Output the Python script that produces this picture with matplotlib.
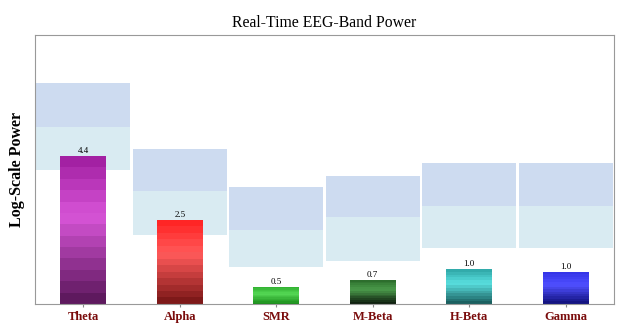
import numpy as np
import matplotlib
matplotlib.use('Agg')
from matplotlib import pyplot as plt
from matplotlib.colors import LinearSegmentedColormap

bands = ['Theta', 'Alpha', 'SMR', 'M-Beta', 'H-Beta', 'Gamma']
power = [4.4, 2.5, 0.5, 0.72, 1.03, 0.96]
# reference ranges behind each bar: low, mid, high
range_low = [3.99, 2.05, 1.10, 1.29, 1.65, 1.65]
range_mid = [5.27, 3.36, 2.20, 2.58, 2.92, 2.92]
range_high = [6.58, 4.61, 3.48, 3.82, 4.19, 4.19]

# bottom, middle, top shades
bar_shades = [
    ['#561556', '#d855d8', '#9e1c9e'],
    ['#761515', '#ff5a5a', '#ff2020'],
    ['#178a17', '#55d855', '#30b030'],
    ['#0c1a0c', '#4a9a4a', '#2a6a2a'],
    ['#175858', '#5ae0e0', '#2ea6a6'],
    ['#10107a', '#5050ff', '#3232e6'],
]
n_seg = 13

plt.rcParams['font.family'] = ['Liberation Serif', 'DejaVu Serif']
fig = plt.figure(figsize=(6.29, 3.30), dpi=100)
ax = fig.add_axes([0.0556, 0.079, 0.9205, 0.815])

x = np.arange(len(bands))
ax.bar(x, np.array(range_mid) - np.array(range_low), bottom=range_low,
       width=0.97, color='#d9ebf2', zorder=1)
ax.bar(x, np.array(range_high) - np.array(range_mid), bottom=range_mid,
       width=0.97, color='#cddbf0', zorder=1)

for i, val in enumerate(power):
    cmap = LinearSegmentedColormap.from_list('b%d' % i,
        [(0, bar_shades[i][0]), (0.6, bar_shades[i][1]), (1, bar_shades[i][2])])
    seg = val / n_seg
    for k in range(n_seg):
        ax.bar(x[i], seg, bottom=k * seg, width=0.48,
               color=cmap((k + 0.5) / n_seg), linewidth=0, zorder=2)
    ax.text(x[i], val + 0.03, '%.1f' % val, ha='center', va='bottom',
            fontsize=6.5, zorder=3)

ax.set_xlim(-0.5, 5.5)
ax.set_ylim(0, 8)
ax.set_yticks([])
ax.set_xticks(x)
ax.set_xticklabels(bands, color='#7a0c0c', fontweight='bold', fontsize=9)
ax.tick_params(axis='x', length=2, color='#888888', pad=3)
for s in ax.spines.values():
    s.set_color('#999999')
    s.set_linewidth(0.8)

ax.set_title('Real-Time EEG-Band Power', fontsize=11.3, pad=6)
ax.set_ylabel('Log-Scale Power', fontsize=11.5, fontweight='bold', labelpad=7)

fig.savefig('out.png', dpi=100)
